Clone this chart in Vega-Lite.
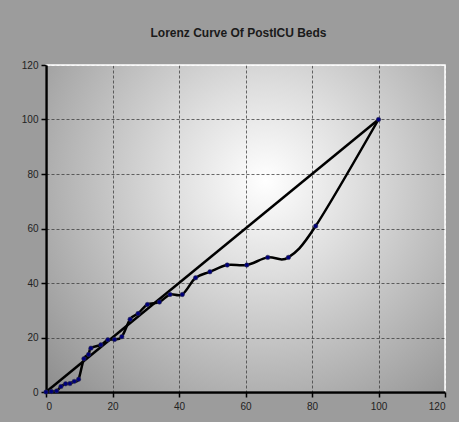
{
  "$schema": "https://vega.github.io/schema/vega-lite/v6.json",
  "width": 399,
  "height": 327,
  "autosize": {"type": "none"},
  "padding": {"left": 46, "top": 65, "right": 14, "bottom": 30},
  "background": "#9c9c9c",
  "title": {
    "text": "Lorenz Curve Of PostICU Beds",
    "font": "Liberation Sans",
    "fontSize": 12,
    "fontWeight": "bold",
    "color": "#1a1a1a",
    "anchor": "middle",
    "offset": 20,
    "dx": -7
  },
  "config": {
    "view": {
      "stroke": "white",
      "strokeWidth": 1.5,
      "fill": {
        "gradient": "radial",
        "x1": 0.55, "y1": 0.38, "r1": 0,
        "x2": 0.55, "y2": 0.38, "r2": 0.78,
        "stops": [
          {"offset": 0, "color": "#ffffff"},
          {"offset": 0.3, "color": "#dedede"},
          {"offset": 0.75, "color": "#a8a8a8"},
          {"offset": 1, "color": "#8a8a8a"}
        ]
      }
    },
    "axis": {
      "labelFont": "Liberation Sans",
      "labelFontSize": 10,
      "labelColor": "#222222",
      "domainColor": "black",
      "domainWidth": 2.5,
      "tickColor": "black",
      "tickWidth": 1.5,
      "tickSize": 5,
      "gridDash": [3, 2],
      "gridWidth": 1,
      "gridOpacity": 0.75,
      "title": null
    }
  },
  "datasets": {
    "lorenz": [
      {"x": 0, "y": 0},
      {"x": 1.6, "y": 0.2},
      {"x": 3.2, "y": 0.4},
      {"x": 4.5, "y": 2.0},
      {"x": 5.9, "y": 3.0},
      {"x": 7.2, "y": 3.1},
      {"x": 8.5, "y": 3.9},
      {"x": 9.8, "y": 4.7},
      {"x": 11.4, "y": 12.2},
      {"x": 12.8, "y": 13.8},
      {"x": 13.5, "y": 16.1},
      {"x": 16.5, "y": 17.3},
      {"x": 18.6, "y": 19.2},
      {"x": 20.6, "y": 19.3},
      {"x": 22.8, "y": 20.3},
      {"x": 25.3, "y": 26.7},
      {"x": 27.7, "y": 28.8},
      {"x": 30.5, "y": 32.1},
      {"x": 34.1, "y": 33.0},
      {"x": 37.3, "y": 35.8},
      {"x": 41.0, "y": 35.8},
      {"x": 45.0, "y": 41.9},
      {"x": 49.3, "y": 44.1},
      {"x": 54.5, "y": 46.6},
      {"x": 60.4, "y": 46.6},
      {"x": 66.7, "y": 49.4},
      {"x": 72.9, "y": 49.4},
      {"x": 81.1, "y": 60.9},
      {"x": 100, "y": 100}
    ],
    "equal": [
      {"x": 0, "y": 0},
      {"x": 100, "y": 100}
    ]
  },
  "layer": [
    {
      "data": {"name": "equal"},
      "mark": {"type": "line", "color": "black", "strokeWidth": 2.5},
      "encoding": {
        "x": {
          "field": "x", "type": "quantitative",
          "scale": {"domain": [0, 120], "nice": false},
          "axis": {
            "values": [0, 20, 40, 60, 80, 100, 120],
            "labelPadding": 4,
            "gridColor": {"condition": {"test": "datum.value === 120", "value": "white"}, "value": "#3a3a3a"}
          }
        },
        "y": {
          "field": "y", "type": "quantitative",
          "scale": {"domain": [0, 120], "nice": false},
          "axis": {
            "values": [0, 20, 40, 60, 80, 100, 120],
            "labelPadding": 3,
            "gridColor": {"condition": {"test": "datum.value === 120", "value": "white"}, "value": "#3a3a3a"}
          }
        }
      }
    },
    {
      "data": {"name": "lorenz"},
      "mark": {"type": "line", "color": "black", "strokeWidth": 2.5, "interpolate": "cardinal"},
      "encoding": {
        "x": {"field": "x", "type": "quantitative"},
        "y": {"field": "y", "type": "quantitative"}
      }
    },
    {
      "data": {"name": "lorenz"},
      "mark": {"type": "circle", "fill": "#00007a", "stroke": "#333344", "strokeWidth": 0.5, "size": 20, "opacity": 1},
      "encoding": {
        "x": {"field": "x", "type": "quantitative"},
        "y": {"field": "y", "type": "quantitative"}
      }
    }
  ]
}
